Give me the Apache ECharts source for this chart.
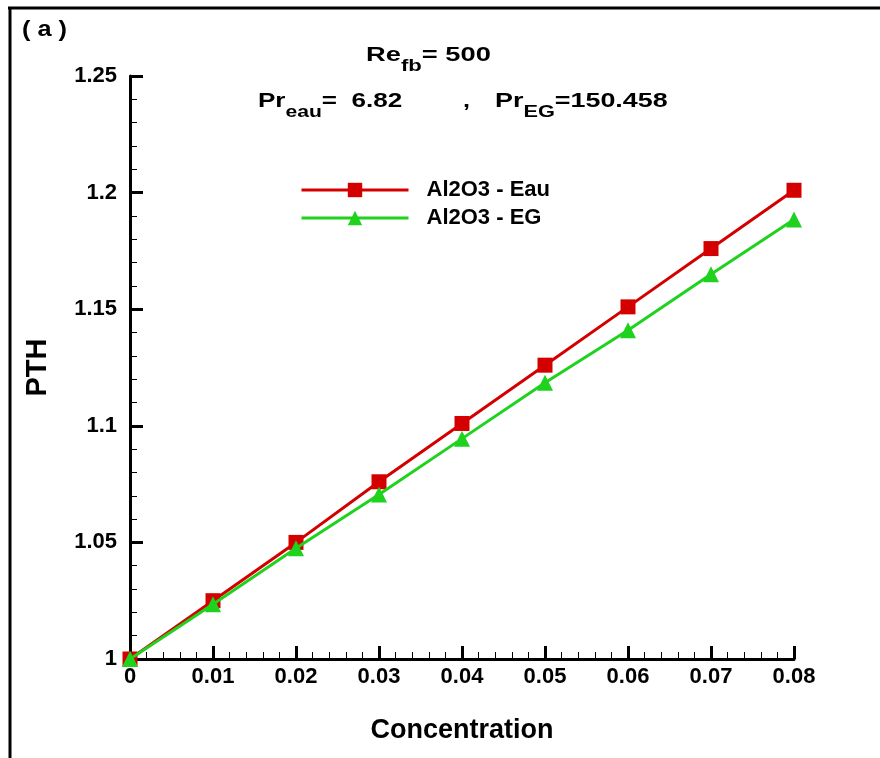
<!DOCTYPE html>
<html><head><meta charset="utf-8">
<script src="https://cdn.jsdelivr.net/npm/echarts@6/dist/echarts.min.js"></script>
<style>html,body{margin:0;padding:0;background:#fff}#c{width:880px;height:758px}</style>
</head><body><div id="c"></div>
<script>
const concentration = [0, 0.01, 0.02, 0.03, 0.04, 0.05, 0.06, 0.07, 0.08];
const pthEau = [1, 1.025, 1.050, 1.076, 1.101, 1.126, 1.151, 1.176, 1.201];
const pthEG = [1, 1.0235, 1.0475, 1.0705, 1.0945, 1.1185, 1.141, 1.165, 1.1885];
const seriesNames = ['Al2O3 - Eau', 'Al2O3 - EG'];

const F = 'Liberation Sans, Arial, sans-serif';
const chart = echarts.init(document.getElementById('c'));
const axisCommon = {
  axisLine: {lineStyle: {color: '#000', width: 3}},
  axisTick: {inside: true, length: 13, lineStyle: {color: '#000', width: 3}},
  splitLine: {show: false},
  axisLabel: {color: '#000', fontFamily: F, fontWeight: 'bold', fontSize: 22}
};
const minorAxis = {
  axisLine: {show: false},
  axisTick: {inside: true, length: 7, lineStyle: {color: '#000', width: 1}},
  axisLabel: {show: false},
  splitLine: {show: false},
  offset: 0, silent: true
};
const rich = {
  b: {fontFamily: F, fontWeight: 'bold', fontSize: 21, fill: '#000', verticalAlign: 'bottom', lineHeight: 24},
  s: {fontFamily: F, fontWeight: 'bold', fontSize: 17, fill: '#000', verticalAlign: 'bottom', lineHeight: 16, padding: [0,0,-9,0]}
};
chart.setOption({
  animation: false,
  backgroundColor: '#fff',
  grid: {left: 130, right: 86, top: 76, bottom: 99},
  legend: {
    orient: 'vertical', left: 300, top: 179, padding: 0, itemWidth: 107, itemHeight: 18, itemGap: 6,
    lineStyle: {width: 3},
    textStyle: {fontFamily: F, fontWeight: 'bold', fontSize: 22, lineHeight: 22, color: '#000', padding: [0,0,0,13]},
    data: seriesNames
  },
  xAxis: [Object.assign({}, axisCommon, {
    type: 'value', min: 0, max: 0.08, interval: 0.01,
    name: 'Concentration', nameLocation: 'middle', nameGap: 58,
    nameTextStyle: {fontFamily: F, fontWeight: 'bold', fontSize: 27, color: '#000'},
    axisLabel: Object.assign({}, axisCommon.axisLabel, {margin: 7, formatter: v => String(+v.toFixed(2))})
  }), Object.assign({}, minorAxis, {type: 'value', position: 'bottom', min: 0, max: 0.08, interval: 0.002})],
  yAxis: [Object.assign({}, axisCommon, {
    type: 'value', min: 1, max: 1.25, interval: 0.05,
    name: 'PTH', nameLocation: 'middle', nameGap: 78, nameRotate: 90,
    nameTextStyle: {fontFamily: F, fontWeight: 'bold', fontSize: 29, color: '#000'},
    axisLabel: Object.assign({}, axisCommon.axisLabel, {margin: 13, formatter: v => String(+v.toFixed(2))})
  }), Object.assign({}, minorAxis, {type: 'value', position: 'left', min: 1, max: 1.25, interval: 0.01})],
  series: [
    {name: seriesNames[0], type: 'line', xAxisIndex: 0, yAxisIndex: 0, data: concentration.map((x,i)=>[x, pthEau[i]]),
     symbol: 'rect', symbolSize: 15, color: '#d40000', lineStyle: {width: 3}, z: 3},
    {name: seriesNames[1], type: 'line', xAxisIndex: 0, yAxisIndex: 0, data: concentration.map((x,i)=>[x, pthEG[i]]),
     symbol: 'triangle', symbolSize: 16, color: '#1ed21e', lineStyle: {width: 3}, z: 4}
  ],
  graphic: [
    {type: 'line', shape: {x1: 10, y1: 8, x2: 10, y2: 758}, style: {stroke: '#000', lineWidth: 3}},
    {type: 'line', shape: {x1: 8, y1: 8, x2: 880, y2: 8}, style: {stroke: '#000', lineWidth: 3}},
    {type: 'text', x: 22, y: 19, scaleX: 1.15, style: {text: '( a )', fontFamily: F, fontWeight: 'bold', fontSize: 22, fill: '#000'}},
    {type: 'text', x: 366, y: 42, scaleX: 1.3, style: {text: '{b|Re}{s|fb}{b|= 500}', rich: rich}},
    {type: 'text', x: 258, y: 88, scaleX: 1.24, style: {text: '{b|Pr}{s|eau}{b|=  6.82}', rich: rich}},
    {type: 'text', x: 463, y: 88, scaleX: 1.2, style: {text: '{b|,}', rich: rich}},
    {type: 'text', x: 495, y: 88, scaleX: 1.28, style: {text: '{b|Pr}{s|EG}{b|=150.458}', rich: rich}}
  ]
});
</script></body></html>
